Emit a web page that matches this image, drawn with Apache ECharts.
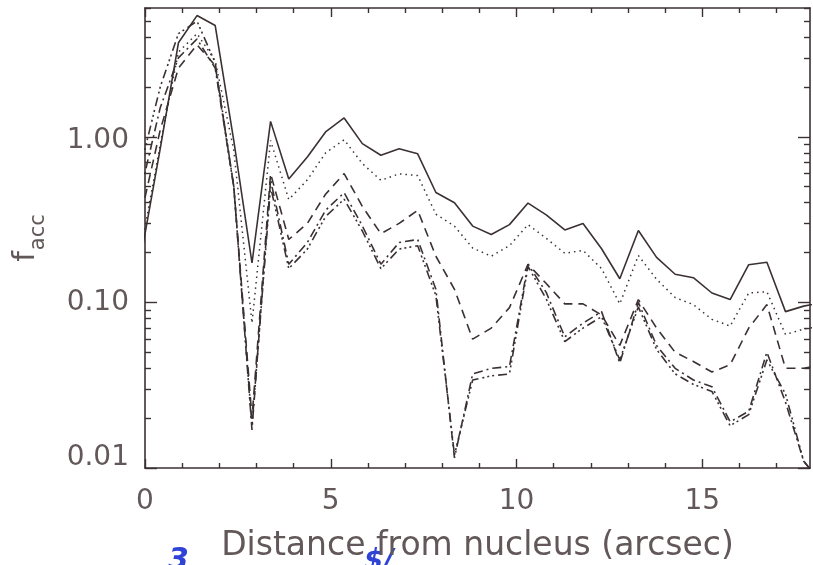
<!DOCTYPE html>
<html>
<head>
<meta charset="utf-8">
<script src="https://cdn.jsdelivr.net/npm/echarts@6/dist/echarts.min.js"></script>
<style>
  html, body { margin: 0; padding: 0; background: #ffffff; overflow: hidden; }
  #chart { width: 813px; height: 565px; }
</style>
</head>
<body>
<div id="chart"></div>
<script>
// Radial distance of each sample (arcsec)
const distance = [-0.09, 0.41, 0.90, 1.40, 1.89, 2.39, 2.88, 3.38, 3.87, 4.37, 4.86, 5.36, 5.85, 6.35, 6.84, 7.34, 7.83, 8.33, 8.82, 9.32, 9.81, 10.31, 10.80, 11.30, 11.79, 12.29, 12.78, 13.28, 13.77, 14.27, 14.76, 15.26, 15.75, 16.25, 16.74, 17.24, 17.73, 18.23];

// f_acc profiles, one per line style
const facSolid = [0.20, 0.85, 3.7, 5.4, 4.7, 0.95, 0.173, 1.24, 0.556, 0.755, 1.07, 1.30, 0.91, 0.774, 0.848, 0.79, 0.461, 0.40, 0.289, 0.257, 0.295, 0.398, 0.338, 0.274, 0.30, 0.211, 0.139, 0.272, 0.187, 0.148, 0.141, 0.114, 0.104, 0.169, 0.175, 0.088, 0.095, 0.10];
const facDotted = [0.22, 0.90, 3.25, 4.2, 2.88, 0.83, 0.075, 0.95, 0.418, 0.55, 0.80, 0.96, 0.69, 0.546, 0.598, 0.584, 0.341, 0.289, 0.213, 0.19, 0.22, 0.295, 0.244, 0.198, 0.206, 0.16, 0.098, 0.192, 0.138, 0.107, 0.097, 0.079, 0.072, 0.114, 0.116, 0.064, 0.069, 0.072];
const facDashed = [0.35, 1.1, 2.6, 3.6, 2.7, 0.5, 0.02, 0.6, 0.24, 0.30, 0.45, 0.60, 0.38, 0.26, 0.30, 0.36, 0.19, 0.12, 0.06, 0.07, 0.093, 0.17, 0.13, 0.098, 0.098, 0.084, 0.055, 0.104, 0.07, 0.05, 0.044, 0.038, 0.042, 0.07, 0.097, 0.04, 0.04, 0.042];
const facDashDot = [0.5, 1.5, 3.0, 3.9, 2.6, 0.5, 0.017, 0.55, 0.17, 0.23, 0.36, 0.46, 0.29, 0.17, 0.23, 0.24, 0.12, 0.0115, 0.037, 0.04, 0.041, 0.17, 0.115, 0.062, 0.075, 0.088, 0.043, 0.10, 0.055, 0.04, 0.034, 0.031, 0.019, 0.022, 0.05, 0.025, 0.011, 0.008];
const facDashDot3 = [0.7, 2.0, 4.2, 5.0, 2.8, 0.5, 0.018, 0.5, 0.16, 0.21, 0.33, 0.42, 0.27, 0.16, 0.21, 0.22, 0.11, 0.012, 0.034, 0.036, 0.037, 0.165, 0.105, 0.058, 0.07, 0.082, 0.045, 0.094, 0.052, 0.037, 0.032, 0.029, 0.018, 0.021, 0.045, 0.028, 0.011, 0.008];

// Axis ticks
const xMajorTicks = [0, 5, 10, 15];
const xMinorTicks = [1, 2, 3, 4, 6, 7, 8, 9, 11, 12, 13, 14, 16, 17];
const yMajorTicks = [0.01, 0.1, 1];
const yMinorTicks = [0.02, 0.03, 0.04, 0.05, 0.06, 0.07, 0.08, 0.09, 0.2, 0.3, 0.4, 0.5, 0.6, 0.7, 0.8, 0.9, 2, 3, 4, 5, 6];

const INK = '#3b3132';
const TEXT = '#625859';
const PEN = '#2f43d6';
const FONT = 'DejaVu Sans';
const X_MIN = 0, X_MAX = 17.9, Y_MIN = 0.01, Y_MAX = 6;

const chart = echarts.init(document.getElementById('chart'), null, { renderer: 'canvas' });

function xAxisDef(position, ticks, len, withLine, withLabels) {
  const ax = {
    type: 'value', gridIndex: 0, position: position, min: X_MIN, max: X_MAX,
    axisLine: { show: withLine, onZero: false, lineStyle: { color: INK, width: 1.6 } },
    axisTick: { show: true, inside: true, length: len, customValues: ticks, lineStyle: { color: INK, width: 1.4 } },
    axisLabel: { show: false },
    splitLine: { show: false }
  };
  if (withLabels) {
    ax.axisLabel = { show: true, customValues: ticks, margin: 20, color: TEXT, fontFamily: FONT, fontSize: 28 };
    ax.name = 'Distance from nucleus (arcsec)';
    ax.nameLocation = 'middle';
    ax.nameGap = 62;
    ax.nameTextStyle = { color: TEXT, fontFamily: FONT, fontSize: 33 };
  }
  return ax;
}

function yAxisDef(position, ticks, len, withLine, withLabels) {
  const ax = {
    type: 'log', logBase: 10, gridIndex: 0, position: position, min: Y_MIN, max: Y_MAX,
    axisLine: { show: withLine, onZero: false, lineStyle: { color: INK, width: 1.6 } },
    axisTick: { show: true, inside: true, length: len, customValues: ticks, lineStyle: { color: INK, width: 1.4 } },
    axisLabel: { show: false },
    splitLine: { show: false }
  };
  if (withLabels) {
    ax.axisLabel = {
      show: true, customValues: ticks, margin: 16, color: TEXT, fontFamily: FONT, fontSize: 28,
      formatter: function (v) {
        const s = Number(v).toFixed(2);
        if (v < 0.05) return '{lo|' + s + '}';
        if (v > 0.5) return '{hi|' + s + '}';
        return s;
      },
      rich: {
        lo: { color: TEXT, fontFamily: FONT, fontSize: 28, padding: [0, 0, 20, 0] },
        hi: { color: TEXT, fontFamily: FONT, fontSize: 28, padding: [8, 0, 0, 0] }
      }
    };
    ax.name = '{f|f}{s|acc}';
    ax.nameLocation = 'middle';
    ax.nameGap = 104;
    ax.nameRotate = 90;
    ax.nameTextStyle = {
      color: TEXT,
      rich: {
        f: { color: TEXT, fontFamily: FONT, fontSize: 30, verticalAlign: 'bottom' },
        s: { color: TEXT, fontFamily: FONT, fontSize: 21, verticalAlign: 'bottom', padding: [0, 0, -8, 1] }
      }
    };
  }
  return ax;
}

function profile(values, dash, width) {
  return {
    type: 'line', xAxisIndex: 0, yAxisIndex: 0,
    data: distance.map((d, i) => [d, values[i]]),
    showSymbol: false, symbol: 'none', clip: true, silent: true,
    lineStyle: { color: INK, width: width, type: dash, cap: 'butt' }
  };
}

chart.setOption({
  backgroundColor: '#ffffff',
  animation: false,
  grid: { left: 145, right: 3, top: 8, bottom: 97, containLabel: false, outerBoundsMode: 'none' },
  xAxis: [
    xAxisDef('bottom', xMajorTicks, 9, true, true),
    xAxisDef('bottom', xMinorTicks, 5, false, false),
    xAxisDef('top', xMajorTicks, 9, true, false),
    xAxisDef('top', xMinorTicks, 5, false, false)
  ],
  yAxis: [
    yAxisDef('left', yMajorTicks, 12, true, true),
    yAxisDef('left', yMinorTicks, 6, false, false),
    yAxisDef('right', yMajorTicks, 12, true, false),
    yAxisDef('right', yMinorTicks, 6, false, false)
  ],
  // hand-written pen notes below the axis title
  graphic: [
    { type: 'text', left: 168, top: 546, silent: true,
      style: { text: '3', fill: PEN, font: 'italic bold 30px "DejaVu Sans"' } },
    { type: 'text', left: 364, top: 548, silent: true,
      style: { text: '$/', fill: PEN, font: 'italic bold 28px "DejaVu Sans"' } }
  ],
  series: [
    profile(facSolid, 'solid', 1.6),
    profile(facDotted, [1.5, 4], 1.5),
    profile(facDashed, [9, 6], 1.6),
    profile(facDashDot, [9, 4, 2, 4], 1.6),
    profile(facDashDot3, [9, 4, 2, 3, 2, 3, 2, 4], 1.6)
  ]
});
</script>
</body>
</html>
